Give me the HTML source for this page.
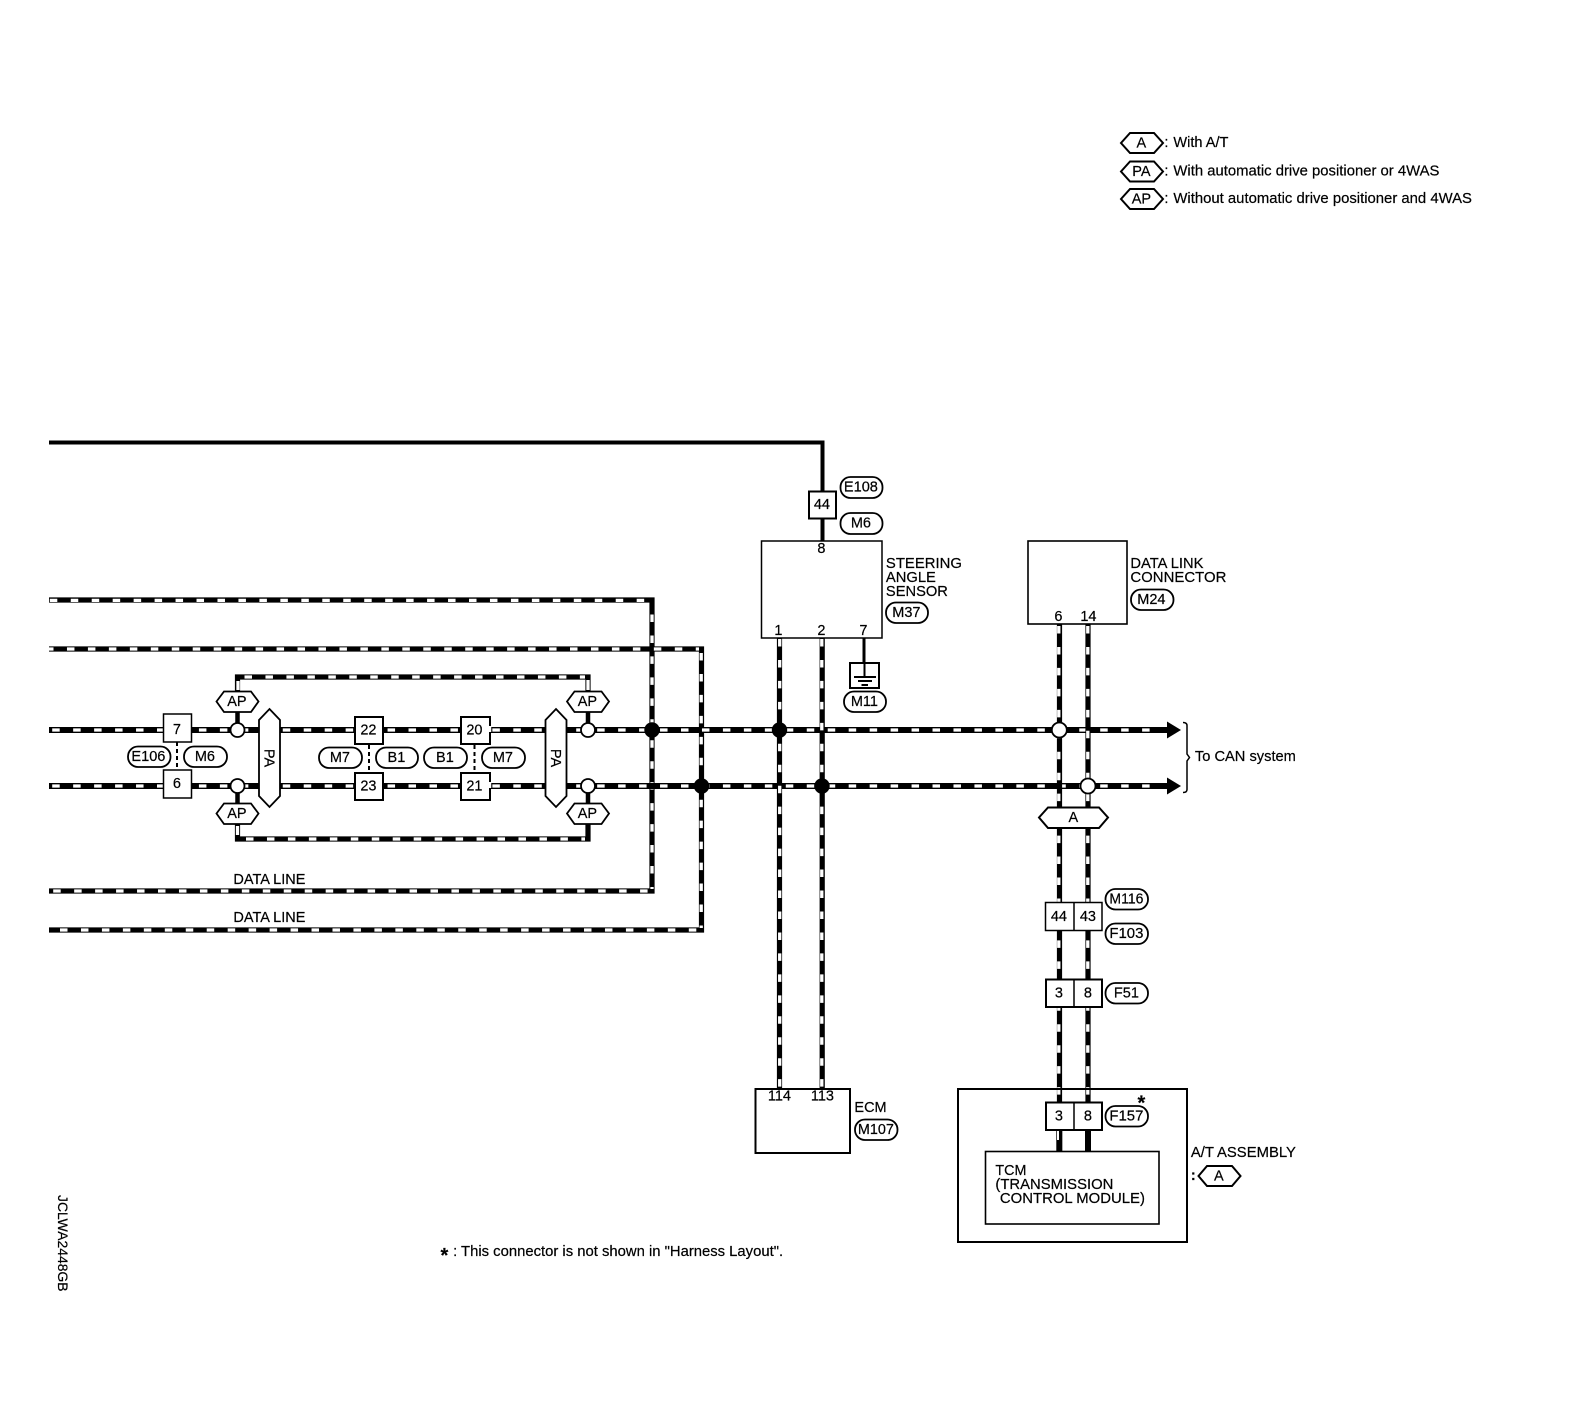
<!DOCTYPE html>
<html><head><meta charset="utf-8"><style>
html,body{margin:0;padding:0;background:#fff}
svg{display:block}
text{font-family:"Liberation Sans",sans-serif;font-size:14.5px;fill:#000;stroke:#000;stroke-width:.2px;text-anchor:middle;transform:translate(-.6px,-1px)}
.l{text-anchor:start}
.b{fill:none;stroke:#000;stroke-width:6}
.v{fill:none;stroke:#000;stroke-width:5.2}
.w{fill:none;stroke:#fff;stroke-width:3.3;stroke-dasharray:7.5 13.46}
.x{fill:none;stroke:#fff;stroke-width:3.3}
.s{fill:#fff;stroke:#000;stroke-width:2}
.t{fill:#fff;stroke:#000;stroke-width:1.8}
.n{fill:none;stroke:#000}
</style></head><body>
<svg xmlns="http://www.w3.org/2000/svg" width="1594" height="1408" viewBox="0 0 1594 1408">
<rect width="1594" height="1408" fill="#fff"/>

<!-- legend -->
<polygon class="s" points="1121,143 1130,133 1154,133 1163,143 1154,153 1130,153"/>
<polygon class="s" points="1121,171.5 1130,161.5 1154,161.5 1163,171.5 1154,181.5 1130,181.5"/>
<polygon class="s" points="1121,199 1130,189 1154,189 1163,199 1154,209 1130,209"/>
<text x="1142" y="148.5">A</text><text x="1142" y="177">PA</text><text x="1142" y="204.5">AP</text>
<text class="l" x="1165" y="148">:</text><text class="l" x="1174" y="148" textLength="55" lengthAdjust="spacingAndGlyphs">With A/T</text>
<text class="l" x="1165" y="176.5">:</text><text class="l" x="1174" y="176.5" textLength="266" lengthAdjust="spacingAndGlyphs">With automatic drive positioner or 4WAS</text>
<text class="l" x="1165" y="204">:</text><text class="l" x="1174" y="204" textLength="298.5" lengthAdjust="spacingAndGlyphs">Without automatic drive positioner and 4WAS</text>

<!-- solid top wire -->
<path class="n" stroke-width="4" d="M49 442.5H822.5V541"/>
<path class="n" stroke-width="3" d="M864 638V664"/>

<!-- data lines -->
<path class="v" d="M49 600H652V891H49"/>
<path class="v" d="M49 649H701.5V930H49"/>
<path class="w" stroke-dashoffset="0" d="M49.8 600.4H650"/>
<path class="w" stroke-dashoffset="3" d="M49 649H699"/>
<path class="w" d="M53.2 891H650"/>
<path class="w" d="M60 930H699"/>
<path class="w" d="M652 614.5V889"/>
<path class="w" d="M701.2 653V928"/>

<!-- bypass -->
<path class="v" d="M237.5 692V677H588V692"/>
<path class="v" d="M237.5 824V839H588V824"/>
<path class="w" d="M244.5 677H585"/>
<path class="w" d="M246 839H585"/>
<path class="x" d="M238 681V690M588 680V690M237.5 826V835"/>
<path class="n" stroke-width="4.5" d="M237.5 712V730M588 712V730M237.5 786V804M588 786V804"/>

<!-- main horizontals -->
<path class="b" d="M49 730H1170M49 786H1170"/>
<path class="w" d="M52.2 730H1162M52.2 786H1162"/>
<polygon points="1167,721.5 1181,730 1167,738.5"/>
<polygon points="1167,777.5 1181,786 1167,794.5"/>

<!-- verticals -->
<path class="v" d="M779.5 638V1089M822.2 638V1089M1059.5 624V1152M1088 624V1152"/>
<path class="w" d="M779.7 639V1089M821.8 639V1089M1058.8 626V1152M1087.8 626V1152"/>

<!-- junctions -->
<circle cx="652" cy="730" r="7.7"/><circle cx="779.5" cy="730" r="7.7"/>
<circle cx="701.5" cy="786" r="7.7"/><circle cx="822" cy="786" r="7.7"/>
<circle class="t" cx="237.5" cy="730" r="7"/><circle class="t" cx="588" cy="730" r="7"/>
<circle class="t" cx="237.5" cy="786" r="7"/><circle class="t" cx="588" cy="786" r="7"/>
<circle class="t" cx="1059.3" cy="730" r="7.5"/><circle class="t" cx="1088" cy="786" r="7.5"/>

<!-- left connectors -->
<rect class="t" x="163.5" y="714" width="28" height="28" style="stroke-width:1.5"/>
<rect class="t" x="163.5" y="770" width="28" height="28" style="stroke-width:1.5"/>
<path class="n" stroke-width="2" stroke-dasharray="4 3" d="M177 742V770M369 745V772M474.5 745V772"/>
<text x="177.5" y="735">7</text><text x="177.5" y="789">6</text>
<rect class="t" x="128" y="746.5" width="42.5" height="20.5" rx="10"/><text x="149" y="762" textLength="34" lengthAdjust="spacingAndGlyphs">E106</text>
<rect class="t" x="184" y="746.5" width="43" height="20.5" rx="10"/><text x="205.5" y="762">M6</text>

<rect class="s" x="355" y="717" width="28" height="27"/>
<rect class="s" x="355" y="773" width="28" height="27"/>
<text x="369" y="735.5">22</text><text x="369" y="791.5">23</text>
<rect class="s" x="461" y="717" width="29" height="27"/>
<rect class="s" x="461" y="773" width="29" height="27"/>
<text x="475" y="735.5">20</text><text x="475" y="791.5">21</text>
<path d="M490 726v6M490 782v6" stroke="#fff" stroke-width="2.5"/>

<rect class="t" x="319" y="747.5" width="43" height="20.5" rx="10"/><text x="340.5" y="763">M7</text>
<rect class="t" x="376" y="747.5" width="42" height="20.5" rx="10"/><text x="397" y="763">B1</text>
<rect class="t" x="424" y="747.5" width="43" height="20.5" rx="10"/><text x="445.5" y="763">B1</text>
<rect class="t" x="482" y="747.5" width="43" height="20.5" rx="10"/><text x="503.5" y="763">M7</text>

<!-- AP hexes -->
<polygon class="t" points="216.5,701.5 224,691.5 251,691.5 258.5,701.5 251,712 224,712"/>
<polygon class="t" points="567,701.5 574.5,691.5 601.5,691.5 609,701.5 601.5,712 574.5,712"/>
<polygon class="t" points="216.5,813.5 224,803.5 251,803.5 258.5,813.5 251,824 224,824"/>
<polygon class="t" points="567,813.5 574.5,803.5 601.5,803.5 609,813.5 601.5,824 574.5,824"/>
<text x="237.5" y="707">AP</text><text x="588" y="707">AP</text><text x="237.5" y="819">AP</text><text x="588" y="819">AP</text>
<!-- PA hexes -->
<polygon class="t" points="269.5,709 280,720 280,796 269.5,807 259,796 259,720"/>
<polygon class="t" points="556,709 566.5,720 566.5,796 556,807 545.5,796 545.5,720"/>
<text style="transform:translate(264.5px,758px) rotate(90deg)" x="0" y="0">PA</text>
<text style="transform:translate(551px,758px) rotate(90deg)" x="0" y="0">PA</text>

<text x="270" y="885" textLength="72" lengthAdjust="spacingAndGlyphs">DATA LINE</text>
<text x="270" y="923" textLength="72" lengthAdjust="spacingAndGlyphs">DATA LINE</text>

<!-- steering -->
<rect class="s" x="809" y="491.5" width="27" height="27"/><text x="822.5" y="510">44</text>
<rect class="t" x="840.5" y="477" width="42" height="21" rx="10"/><text x="861.5" y="492.5" textLength="34" lengthAdjust="spacingAndGlyphs">E108</text>
<rect class="t" x="840.5" y="513" width="42" height="21" rx="10"/><text x="861.5" y="528.5">M6</text>
<rect x="761.5" y="541" width="120.5" height="97" fill="none" stroke="#000" stroke-width="1.5"/>
<path class="n" stroke-width="4" d="M822.5 519V541"/>
<text x="822" y="554">8</text>
<text x="779" y="636">1</text><text x="822" y="636">2</text><text x="864" y="636">7</text>
<text class="l" x="886.5" y="569" textLength="76" lengthAdjust="spacingAndGlyphs">STEERING</text>
<text class="l" x="886.5" y="583" textLength="50" lengthAdjust="spacingAndGlyphs">ANGLE</text>
<text class="l" x="886.5" y="597" textLength="62" lengthAdjust="spacingAndGlyphs">SENSOR</text>
<rect class="t" x="886" y="602.5" width="42" height="20.5" rx="10"/><text x="907" y="618">M37</text>
<rect class="s" x="850" y="663" width="29" height="25"/>
<path class="n" stroke-width="2" d="M864.5 664V677M854 677H876M858 681H872M861.5 685H868"/>
<rect class="t" x="844" y="691.5" width="42" height="20.5" rx="10"/><text x="865" y="707">M11</text>

<!-- data link -->
<rect x="1028" y="541" width="99" height="83" fill="none" stroke="#000" stroke-width="1.6"/>
<text x="1059" y="622">6</text><text x="1089" y="622">14</text>
<text class="l" x="1131" y="569" textLength="73" lengthAdjust="spacingAndGlyphs">DATA LINK</text>
<text class="l" x="1131" y="583" textLength="96" lengthAdjust="spacingAndGlyphs">CONNECTOR</text>
<rect class="t" x="1131" y="589.5" width="42.5" height="20.5" rx="10"/><text x="1152" y="605">M24</text>

<!-- brace -->
<path class="n" stroke-width="1.5" d="M1183 722.5q4 0 4 3V754l2.5 3.5-2.5 3.5V789.5q0 3-4 3"/>
<text class="l" x="1195.5" y="762" textLength="101" lengthAdjust="spacingAndGlyphs">To CAN system</text>

<!-- A hex -->
<polygon class="s" points="1039,817.5 1048,807.5 1099,807.5 1108,817.5 1099,828 1048,828"/>
<text x="1074" y="823">A</text>

<!-- connectors right -->
<rect class="t" x="1045.5" y="902.5" width="56.5" height="28" style="stroke-width:1.5"/><path class="n" stroke-width="1.5" d="M1074 902.5V930.5"/>
<text x="1059.5" y="922">44</text><text x="1088.5" y="922">43</text>
<rect class="t" x="1105.5" y="889" width="42.5" height="20.5" rx="10"/><text x="1127" y="904.5" textLength="34" lengthAdjust="spacingAndGlyphs">M116</text>
<rect class="t" x="1105.5" y="923.5" width="42.5" height="20.5" rx="10"/><text x="1127" y="939" textLength="34" lengthAdjust="spacingAndGlyphs">F103</text>
<rect class="s" x="1046" y="979.5" width="56" height="27.5"/><path class="n" stroke-width="1.5" d="M1074 979.5V1007"/>
<text x="1059.5" y="998.5">3</text><text x="1088.5" y="998.5">8</text>
<rect class="t" x="1105.5" y="983" width="42.5" height="20.5" rx="10"/><text x="1127" y="998.5">F51</text>

<!-- ECM -->
<rect x="755.5" y="1089" width="94.5" height="64" fill="none" stroke="#000" stroke-width="2"/>
<text x="780" y="1101.5">114</text><text x="823" y="1101.5">113</text>
<text class="l" x="855" y="1113">ECM</text>
<rect class="t" x="855" y="1119.5" width="42.5" height="20.5" rx="10"/><text x="876.5" y="1135" textLength="36" lengthAdjust="spacingAndGlyphs">M107</text>

<!-- AT assembly -->
<rect x="958" y="1089" width="229" height="153" fill="none" stroke="#000" stroke-width="2"/>
<rect class="s" x="1046" y="1102.5" width="56" height="27.5"/><path class="n" stroke-width="1.5" d="M1074 1102.5V1130"/>
<text x="1059.5" y="1121.5">3</text><text x="1088.5" y="1121.5">8</text>
<path class="b" d="M1059.3 1130V1151M1088 1130V1151"/>
<path d="M1058 1131V1140" stroke="#fff" stroke-width="2" fill="none"/>
<rect class="t" x="1105.5" y="1106" width="42.5" height="20.5" rx="10"/><text x="1127" y="1121.5" textLength="34" lengthAdjust="spacingAndGlyphs">F157</text>
<text x="1142" y="1110.5" style="font-size:20px;font-weight:bold">*</text>
<rect x="985.5" y="1151.5" width="173.5" height="72.5" fill="none" stroke="#000" stroke-width="1.6"/>
<text class="l" x="996" y="1176" textLength="31" lengthAdjust="spacingAndGlyphs">TCM</text>
<text class="l" x="996" y="1190" textLength="118" lengthAdjust="spacingAndGlyphs">(TRANSMISSION</text>
<text class="l" x="1000.5" y="1204" textLength="145" lengthAdjust="spacingAndGlyphs">CONTROL MODULE)</text>
<text class="l" x="1191.5" y="1158" textLength="105" lengthAdjust="spacingAndGlyphs">A/T ASSEMBLY</text>
<text class="l" x="1191.5" y="1181" style="font-weight:bold">:</text>
<polygon class="s" points="1198.5,1176 1207,1166 1232,1166 1240.5,1176 1232,1186 1207,1186"/>
<text x="1219.5" y="1181.5">A</text>

<!-- footnote -->
<text x="445" y="1263" style="font-size:20px;font-weight:bold">*</text>
<text class="l" x="453.7" y="1257" textLength="330" lengthAdjust="spacingAndGlyphs">: This connector is not shown in "Harness Layout".</text>

<text class="l" style="transform:translate(58px,1195px) rotate(90deg);font-size:14px" x="0" y="0" textLength="96.5" lengthAdjust="spacingAndGlyphs">JCLWA2448GB</text>
</svg>
</body></html>
